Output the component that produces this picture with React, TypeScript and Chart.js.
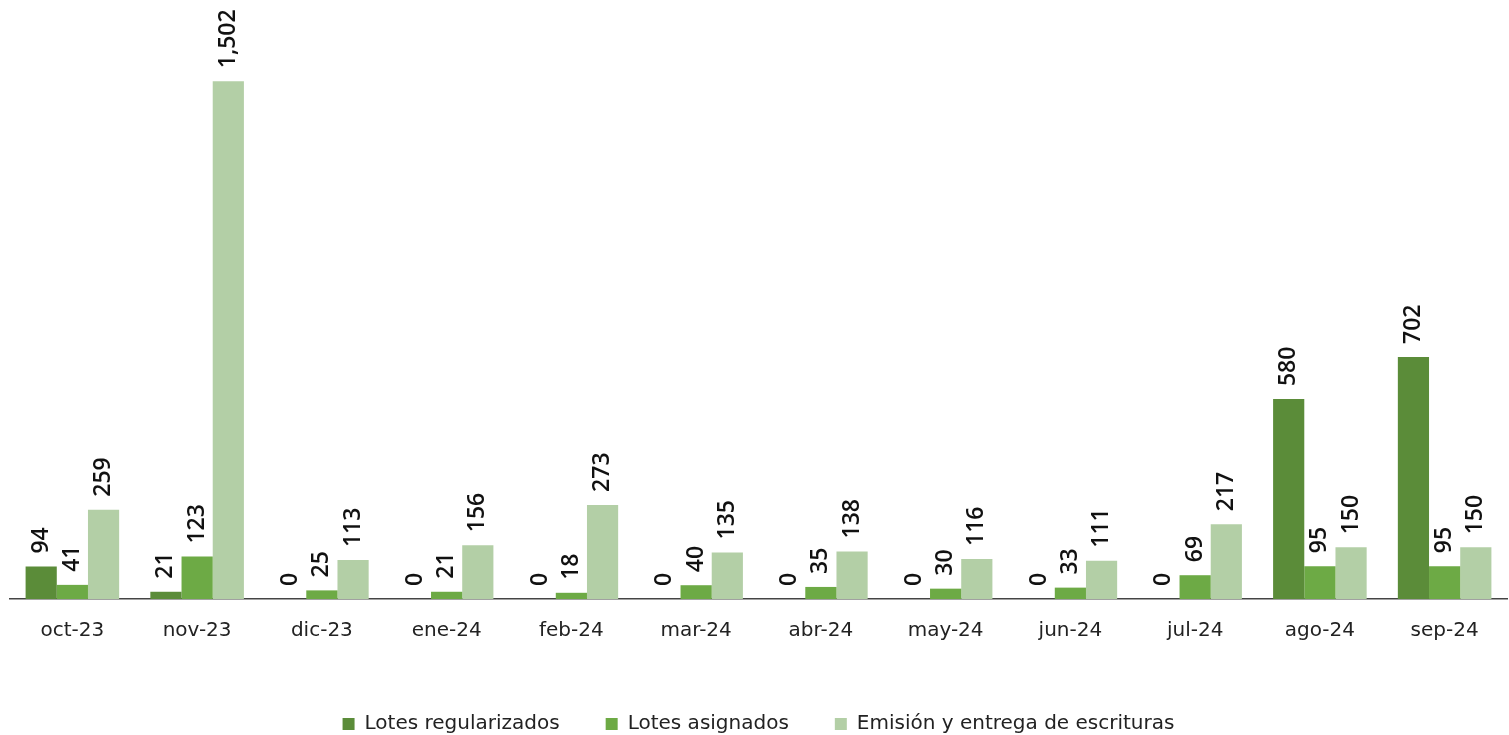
import React, { useEffect, useRef } from "react";
import { Chart, registerables } from "chart.js";

Chart.register(...registerables);

const categories = ["oct-23", "nov-23", "dic-23", "ene-24", "feb-24", "mar-24", "abr-24", "may-24", "jun-24", "jul-24", "ago-24", "sep-24"];
const lotesRegularizados = [94, 21, 0, 0, 0, 0, 0, 0, 0, 0, 580, 702];
const lotesAsignados = [41, 123, 25, 21, 18, 40, 35, 30, 33, 69, 95, 95];
const emision = [259, 1502, 113, 156, 273, 135, 138, 116, 111, 217, 150, 150];
const seriesNames = ["Lotes regularizados", "Lotes asignados", "Emisión y entrega de escrituras"];
const seriesColors = ["#5B8C39", "#6DAA45", "#B3CFA6"];

const FONT = "'DejaVu Sans', sans-serif";
const LABEL_FONT = "'Open Sans', 'Noto Sans', sans-serif";

const labelPlugin = {
  id: "rotLabels",
  afterDatasetsDraw(chart: any) {
    const ctx = chart.ctx;
    ctx.save();
    ctx.fillStyle = "#111";
    ctx.font = `600 23px ${LABEL_FONT}`;
    ctx.textAlign = "left";
    ctx.textBaseline = "middle";
    chart.data.datasets.forEach((ds: any, i: number) => {
      const meta = chart.getDatasetMeta(i);
      meta.data.forEach((el: any, j: number) => {
        const v = ds.data[j];
        const txt = v.toLocaleString("en-US");
        ctx.save();
        ctx.translate(el.x, el.y - 13);
        ctx.rotate(-Math.PI / 2);
        ctx.fillText(txt, 0, 0);
        ctx.restore();
      });
    });
    ctx.restore();
  },
};

export default function App() {
  const ref = useRef<HTMLCanvasElement>(null);
  useEffect(() => {
    if (!ref.current) return;
    const data = [lotesRegularizados, lotesAsignados, emision];
    const chart = new Chart(ref.current, {
      type: "bar",
      data: {
        labels: categories,
        datasets: data.map((d, i) => ({
          label: seriesNames[i],
          data: d,
          backgroundColor: seriesColors[i],
          borderWidth: 0,
          barPercentage: 1,
          categoryPercentage: 0.75,
        })),
      },
      options: {
        animation: false,
        responsive: true,
        maintainAspectRatio: false,
        layout: { padding: { left: 10, right: 2, top: 13, bottom: 0 } },
        plugins: {
          legend: {
            position: "bottom",
            labels: {
              font: { family: FONT, size: 20 },
              color: "#222",
              boxWidth: 12,
              boxHeight: 12,
              padding: 46,
            },
          },
          tooltip: { enabled: false },
        },
        scales: {
          x: {
            grid: { display: false, drawTicks: false },
            border: { display: true, color: "#444", width: 1.5 },
            ticks: { font: { family: FONT, size: 20 }, color: "#222", padding: 20 },
            afterFit: (scale: any) => {
              scale.height += 5;
            },
          },
          y: {
            display: false,
            min: 0,
            max: 1700,
          },
        },
      },
      plugins: [labelPlugin],
    });
    return () => chart.destroy();
  }, []);
  return (
    <div style={{ position: "fixed", left: 0, top: 0, width: "1509px", height: "744px", background: "#fff" }}>
      <canvas ref={ref} />
    </div>
  );
}
